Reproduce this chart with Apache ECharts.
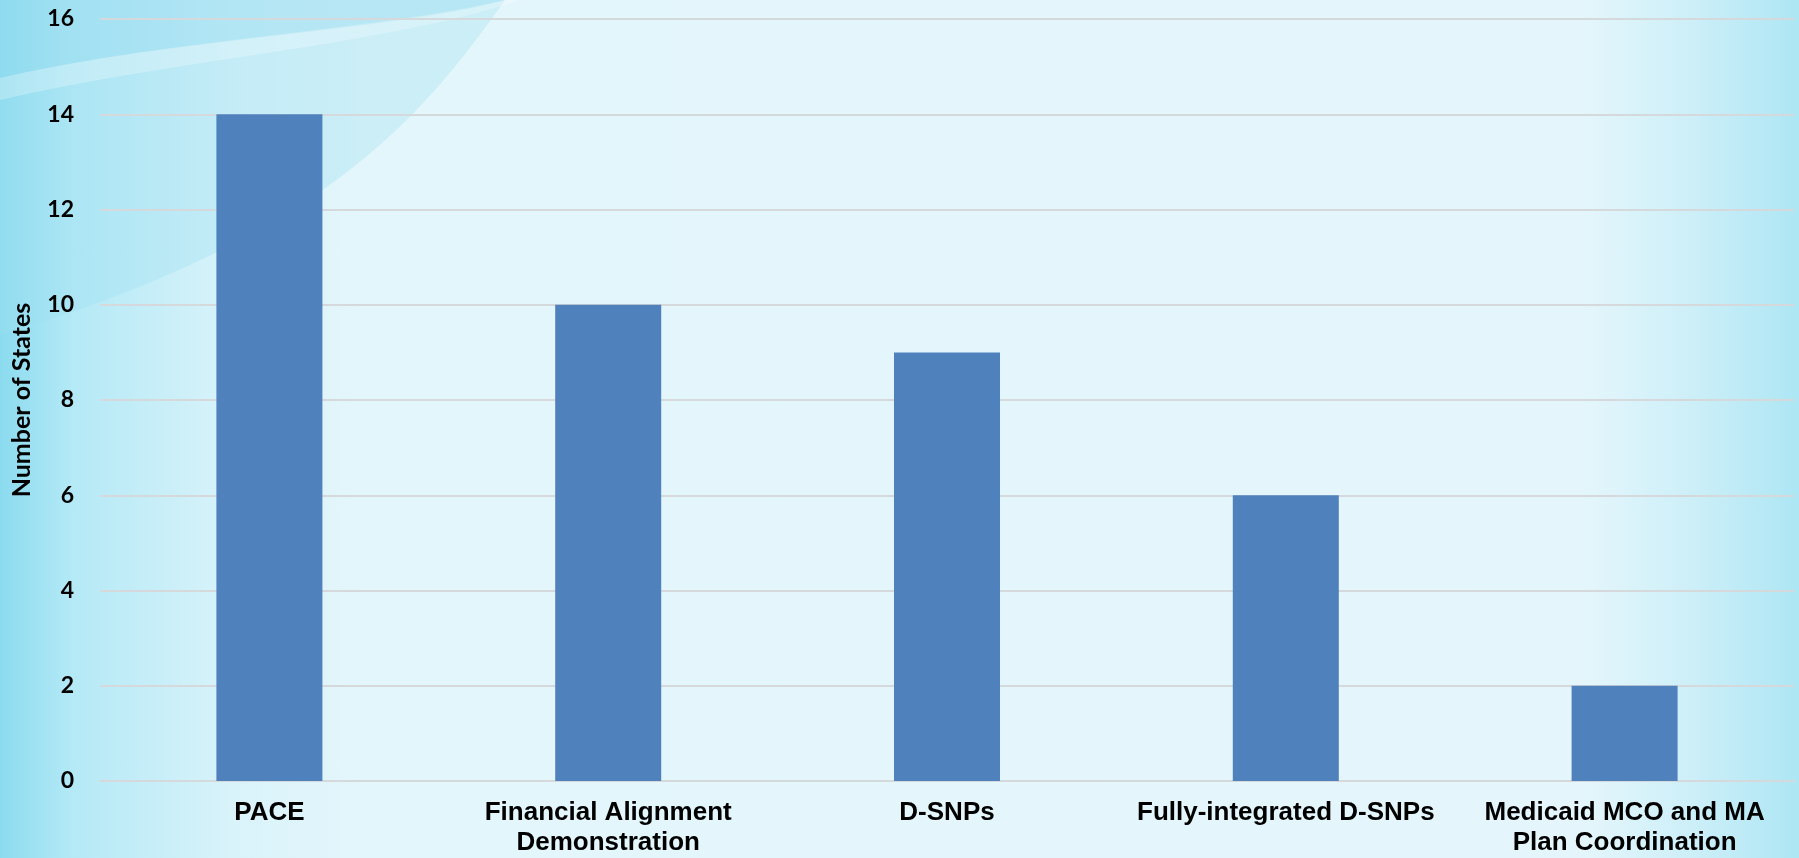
<!DOCTYPE html>
<html>
<head>
<meta charset="utf-8">
<script src="https://cdn.jsdelivr.net/npm/echarts@6/dist/echarts.min.js"></script>
<style>
  html, body { margin: 0; padding: 0; width: 1799px; height: 858px; overflow: hidden; }
  #bg { position: absolute; left: 0; top: 0; }
  #chart { position: absolute; left: 0; top: 0; width: 1799px; height: 858px; }
</style>
</head>
<body>
<svg id="bg" width="1799" height="858" xmlns="http://www.w3.org/2000/svg">
  <defs>
    <linearGradient id="g" x1="0" y1="0" x2="1" y2="0">
      <stop offset="0" stop-color="#8bdbef"/>
      <stop offset="0.04" stop-color="#b4e9f6"/>
      <stop offset="0.13" stop-color="#d9f3fa"/>
      <stop offset="0.2" stop-color="#e3f6fb"/>
      <stop offset="0.88" stop-color="#e4f6fb"/>
      <stop offset="0.94" stop-color="#cdeff8"/>
      <stop offset="1" stop-color="#ade6f4"/>
    </linearGradient>
  </defs>
  <rect x="0" y="0" width="1799" height="858" fill="url(#g)"/>
  <path d="M0,0 L505,0 C420,120 320,240 0,335 Z" fill="#9fe0f2" opacity="0.35"/>
  <path d="M0,0 L505,0 C400,30 160,40 0,78 Z" fill="#8ad8ee" opacity="0.3"/>
  <path d="M0,78 C160,40 380,30 505,0 L520,0 C390,45 170,60 0,100 Z" fill="#ffffff" opacity="0.25"/>
</svg>
<div id="chart"></div>
<script>
const categories = ["PACE", "Financial Alignment\nDemonstration", "D-SNPs", "Fully-integrated D-SNPs", "Medicaid MCO and MA\nPlan Coordination"];
const values = [14, 10, 9, 6, 2];
const yMin = 0, yMax = 16, yStep = 2;

const chart = echarts.init(document.getElementById('chart'), null, { renderer: 'canvas' });
chart.setOption({
  backgroundColor: 'transparent',
  animation: false,
  grid: { left: 100, right: 5, top: 19, bottom: 76, containLabel: false },
  xAxis: {
    type: 'category',
    data: categories,
    axisLine: { show: true, lineStyle: { color: '#d6d9db', width: 2 } },
    axisTick: { show: false },
    axisLabel: {
      interval: 0,
      color: '#000',
      fontFamily: 'Liberation Sans, Arial, sans-serif',
      fontWeight: 'bold',
      fontSize: 26,
      lineHeight: 30,
      margin: 17
    }
  },
  yAxis: {
    type: 'value',
    min: yMin, max: yMax, interval: yStep,
    name: 'Number of States',
    nameLocation: 'middle',
    nameRotate: 90,
    nameGap: 66,
    nameTextStyle: { color: '#000', fontFamily: 'Lato, sans-serif', fontWeight: 'bold', fontSize: 25 },
    axisLine: { show: false },
    axisTick: { show: false },
    splitLine: { lineStyle: { color: '#d6d9db', width: 2 } },
    axisLabel: { color: '#000', fontFamily: 'Lato, sans-serif', fontWeight: 'bold', fontSize: 23, margin: 26 }
  },
  series: [{
    type: 'bar',
    data: values,
    barWidth: 106,
    itemStyle: { color: '#4f81bd' }
  }]
});
</script>
</body>
</html>
